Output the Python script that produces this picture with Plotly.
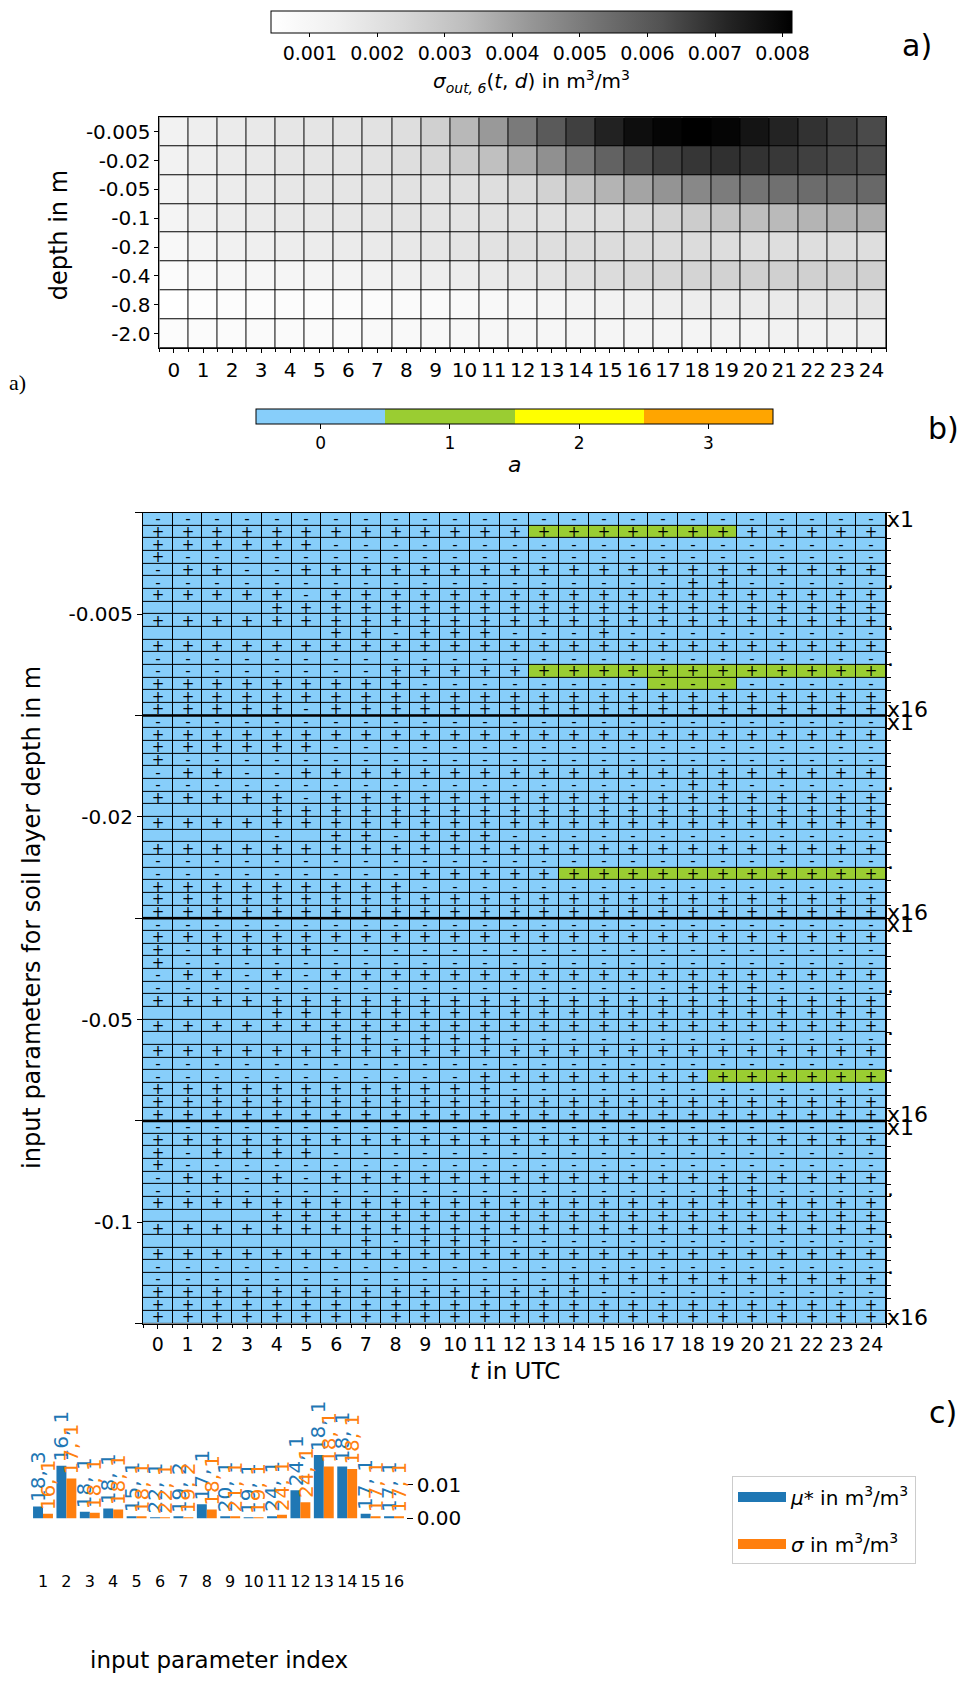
import plotly.graph_objects as go

W, H = 965, 1689


def fx(p):
    return p / W


def fy(p):
    return 1 - p / H


FONT = "DejaVu Sans"

# ---------------- panel a: sigma_out,6(t, d) ----------------
HOURS = list(range(25))
DEPTH_LABELS = ["-0.005", "-0.02", "-0.05", "-0.1", "-0.2", "-0.4", "-0.8", "-2.0"]
# values in 1e-3 m3/m3; rows follow DEPTH_LABELS, columns follow HOURS
SIGMA_OUT_MILLI = [
    [1.261, 1.473, 1.599, 1.683, 1.808, 1.850, 1.892, 1.976, 2.144, 2.664, 3.442, 4.208, 5.054,
     5.977, 6.597, 7.254, 7.775, 8.010, 8.140, 8.010, 7.618, 7.228, 6.897, 6.618, 6.383],
    [1.261, 1.473, 1.599, 1.683, 1.808, 1.850, 1.892, 1.976, 2.144, 2.388, 2.801, 3.215, 3.788,
     4.448, 5.054, 5.744, 6.297, 6.597, 6.811, 6.940, 6.897, 6.768, 6.597, 6.426, 6.297],
    [1.197, 1.431, 1.557, 1.641, 1.767, 1.808, 1.850, 1.892, 1.976, 1.976, 2.061, 2.144, 2.228,
     2.595, 3.077, 3.540, 3.936, 4.337, 4.668, 4.999, 5.219, 5.335, 5.451, 5.509, 5.568],
    [1.132, 1.389, 1.515, 1.599, 1.683, 1.725, 1.767, 1.808, 1.892, 1.892, 1.935, 1.976, 1.976,
     2.018, 2.061, 2.144, 2.312, 2.526, 2.801, 3.077, 3.283, 3.392, 3.540, 3.640, 3.689],
    [0.875, 1.132, 1.325, 1.431, 1.515, 1.557, 1.599, 1.641, 1.725, 1.808, 1.892, 1.976, 2.061,
     2.144, 2.186, 2.228, 2.228, 2.228, 2.228, 2.186, 2.144, 2.144, 2.144, 2.144, 2.144],
    [0.682, 0.811, 0.940, 1.004, 1.068, 1.132, 1.197, 1.261, 1.389, 1.473, 1.557, 1.641, 1.725,
     1.892, 2.061, 2.228, 2.388, 2.457, 2.526, 2.595, 2.664, 2.664, 2.664, 2.664, 2.664],
    [0.425, 0.554, 0.618, 0.618, 0.618, 0.618, 0.682, 0.682, 0.747, 0.747, 0.811, 0.875, 0.940,
     1.068, 1.197, 1.261, 1.389, 1.473, 1.515, 1.557, 1.599, 1.641, 1.725, 1.808, 1.892],
    [0.618, 0.682, 0.682, 0.747, 0.747, 0.747, 0.747, 0.811, 0.811, 0.875, 0.940, 0.940, 1.004,
     1.004, 1.068, 1.068, 1.132, 1.132, 1.132, 1.197, 1.197, 1.261, 1.261, 1.325, 1.389],
]
SIGMA_TICKS = [0.001, 0.002, 0.003, 0.004, 0.005, 0.006, 0.007, 0.008]

# ---------------- panel b: Morris class a and sign per input parameter ----------------
LAYER_LABELS = ["-0.005", "-0.02", "-0.05", "-0.1"]
N_PARAMS = 16
SIGNS_L1 = [
    "-------------------------",
    "+++++++++++++++++++++++++",
    "++++++-------------------",
    "+------------------------",
    "-++--++++++++++++++++++++",
    "------------------++-----",
    "+++++-+++++++++++++++++++",
    "    +++++++++++++++++++++",
    "+++++++++++++++++++++++++",
    "      ++-+++---+---------",
    "+++++++++++++++++++++++++",
    "-------------------------",
    "--------+++++++++++++++++",
    "+++++++++----------------",
    "+++++++++++++++++++++++++",
    "+++++-+++++++++++++++++++",
]
SIGNS_L2 = [
    "-------------------------",
    "+++++++++++++++++++++++++",
    "++++++-------------------",
    "+------------------------",
    "-++--++++++++++++++++++++",
    "------------------++-----",
    "+++++-+++++++++++++++++++",
    "    +++++++++++++++++++++",
    "+++++++++++++++++++++++++",
    "    - ++-+++-------------",
    "+++++++++++++++++++++++++",
    "-------------------------",
    "---------++++++++++++++++",
    "+++++++++----------------",
    "+++++++++++++++++++++++++",
    "+++++++++++++++++++++++++",
]
SIGNS_L3 = [
    "-------------------------",
    "+++++++++++++++++++++++++",
    "+-++++-------------------",
    "+------------------------",
    "-++-+-+++++++++++++++++++",
    "------------------+++----",
    "+++++++++++++++++++++++++",
    "    +++++++++++++++++++++",
    "+++++++++++++++++++++++++",
    "      ++-+++-------------",
    "+++++++++++++++++++++++++",
    "-------------------------",
    "-----------++++++++++++++",
    "++++++++++++-------------",
    "+++++++++++++++++++++++++",
    "+++++++++++++++++++++++++",
]
SIGNS_L4 = [
    "-------------------------",
    "+++++++++++++++++++++++++",
    "+-++++-------------------",
    "+------------------------",
    "-++-+-+++++++++++++++++++",
    "-------------------++----",
    "+++++++++++++++++++++++++",
    "    +++++++++++++++++++++",
    "+++++++++++++++++++++++++",
    "       +-+++-------------",
    "+++++++++++++++++++++++++",
    "-------------------------",
    "--------------+++++++++++",
    "+++++++++++++++----------",
    "+++++++++++++++++++++++++",
    "+++++++++++++++++++++++++",
]
# class a per parameter row (rows not listed are class 0 everywhere)
CLASS_L1 = {1: "0000000000000111111100000",
            12: "0000000000000111111111111",
            13: "0000000000000000011100000"}
CLASS_L2 = {12: "0000000000000011111111111"}
CLASS_L3 = {12: "0000000000000000000111111"}
CLASS_L4 = {}
CLASS_COLORS = ["#87cefa", "#9acd32", "#ffff00", "#ffa500"]
CLASS_VALUES = [0, 1, 2, 3]

# ---------------- panel c: mu* and sigma per input parameter ----------------
PARAM_IDX = list(range(1, 17))
MU_STAR = [0.0035, 0.0158, 0.0019, 0.0029, 0.0006, 0.0001, 0.0003, 0.0042,
           0.0005, 0.0001, 0.0006, 0.0084, 0.0190, 0.0155, 0.0013, 0.0005]
SIGMA = [0.0013, 0.0119, 0.0016, 0.0026, 0.0003, 0.0001, 0.0002, 0.0026,
         0.0004, 0.0001, 0.0010, 0.0048, 0.0155, 0.0148, 0.0006, 0.0006]
MU_LABELS = ["18, 3", "16, 1", "18, 1", "18, 1", "15, 1", "22, 1", "19, 2", "17, 1",
             "20, 1", "19, 1", "24, 1", "24, 1", "18, 1", "18, 1", "17, 1", "17, 1"]
SIGMA_LABELS = ["16, 1", "17, 1", "18, 1", "18, 1", "18, 1", "22, 1", "19, 2", "18, 1",
                "21, 1", "19, 1", "24, 1", "24, 1", "18, 1", "18, 1", "17, 1", "17, 1"]
BAR_TICKS = [0.0, 0.01]
MU_COLOR, SIGMA_COLOR = "#1f77b4", "#ff7f0e"
MU_NAME = "<i>μ</i>* in m<sup>3</sup>/m<sup>3</sup>"
SIGMA_NAME = "<i>σ</i> in m<sup>3</sup>/m<sup>3</sup>"
BARGAP = 0.15

# ---------------- assemble panel b grid ----------------
sign_blocks = [SIGNS_L1, SIGNS_L2, SIGNS_L3, SIGNS_L4]
class_blocks = [CLASS_L1, CLASS_L2, CLASS_L3, CLASS_L4]
class_z, sign_text = [], []
for signs, classes in zip(sign_blocks, class_blocks):
    for r in range(N_PARAMS):
        sign_text.append([ch.strip() for ch in signs[r]])
        row_cls = classes.get(r, "0" * len(HOURS))
        class_z.append([int(ch) for ch in row_cls])
n_rows = len(class_z)

GREYS = [[0.0, "#ffffff"], [0.125, "#f0f0f0"], [0.25, "#d9d9d9"], [0.375, "#bdbdbd"],
         [0.5, "#969696"], [0.625, "#737373"], [0.75, "#525252"], [0.875, "#252525"],
         [1.0, "#000000"]]
n_cls = len(CLASS_COLORS)
CLASS_SCALE = []
for i, c in enumerate(CLASS_COLORS):
    CLASS_SCALE += [[i / n_cls, c], [(i + 1) / n_cls, c]]

sigma_z = [[v * 1e-3 for v in row] for row in SIGMA_OUT_MILLI]
flat = [v for row in sigma_z for v in row]

fig = go.Figure()

fig.add_trace(go.Heatmap(
    z=sigma_z, x=HOURS, y=list(range(len(DEPTH_LABELS))),
    colorscale=GREYS, zmin=min(flat), zmax=max(flat),
    xgap=1, ygap=1, xaxis="x", yaxis="y", hoverinfo="skip",
    colorbar=dict(
        orientation="h", x=fx(531.5), xanchor="center", y=fy(5), yanchor="top",
        len=521 / W, thickness=22, xpad=0, ypad=0, outlinewidth=1, outlinecolor="black",
        ticks="outside", ticklen=4, tickcolor="black",
        tickvals=SIGMA_TICKS, ticktext=[f"{v:.3f}" for v in SIGMA_TICKS],
        tickfont=dict(family=FONT, size=19, color="black"),
    ),
))

fig.add_trace(go.Heatmap(
    z=class_z, x=HOURS, y=list(range(n_rows)),
    text=sign_text, texttemplate="%{text}",
    textfont=dict(family=FONT, size=15, color="black"),
    colorscale=CLASS_SCALE, zmin=-0.5, zmax=n_cls - 0.5,
    xgap=1, ygap=1, xaxis="x2", yaxis="y2", hoverinfo="skip",
    colorbar=dict(
        orientation="h", x=fx(514.5), xanchor="center", y=fy(406), yanchor="top",
        len=517 / W, thickness=15, xpad=0, ypad=0, outlinewidth=1, outlinecolor="black",
        ticks="outside", ticklen=5, tickcolor="black",
        tickvals=CLASS_VALUES, ticktext=[str(v) for v in CLASS_VALUES],
        tickfont=dict(family=FONT, size=17, color="black"),
    ),
))

# invisible anchor for the right-hand parameter axis
fig.add_trace(go.Scatter(x=[0], y=[0], xaxis="x2", yaxis="y3", mode="markers",
                         marker=dict(opacity=0), hoverinfo="skip", showlegend=False))

fig.add_trace(go.Bar(
    x=PARAM_IDX, y=MU_STAR, name=MU_NAME, showlegend=False,
    marker=dict(color=MU_COLOR, line=dict(width=0)),
    xaxis="x3", yaxis="y4", hoverinfo="skip",
))
fig.add_trace(go.Bar(
    x=PARAM_IDX, y=SIGMA, name=SIGMA_NAME, showlegend=False,
    marker=dict(color=SIGMA_COLOR, line=dict(width=0)),
    xaxis="x3", yaxis="y4", hoverinfo="skip",
))
# legend entries drawn as wide colour patches
for name, col, grp in ((MU_NAME, MU_COLOR, "mu"), (SIGMA_NAME, SIGMA_COLOR, "sigma")):
    fig.add_trace(go.Scatter(x=[None], y=[None], mode="lines", name=name, legendgroup=grp,
                             line=dict(color=col, width=14), xaxis="x3", yaxis="y4",
                             hoverinfo="skip"))

# black backing so heatmap gaps read as cell borders
for xr, yr in (("x", "y"), ("x2", "y2")):
    fig.add_shape(type="rect", xref=f"{xr} domain", yref=f"{yr} domain",
                  x0=0, x1=1, y0=0, y1=1, fillcolor="black", line=dict(width=0), layer="below")

# thicker separators between soil layers
for b in range(1, len(LAYER_LABELS)):
    yb = b * N_PARAMS - 0.5
    fig.add_shape(type="line", xref="x2 domain", yref="y2", x0=0, x1=1, y0=yb, y1=yb,
                  line=dict(color="black", width=2.5))

tick_font = dict(family=FONT, size=20, color="black")
axis_common = dict(showline=True, mirror=True, linecolor="black", linewidth=1,
                   showgrid=False, zeroline=False, ticks="outside", tickcolor="black")

right_vals, right_text = [], []
for b in range(len(LAYER_LABELS)):
    base = b * N_PARAMS
    right_vals += [base, base + 4.8, base + 8.1, base + 11, base + N_PARAMS - 1]
    right_text += ["x1", ".", ".", ".", f"x{N_PARAMS}"]

BAR_Y0_PX, BAR_PX_PER_UNIT = 1523, 3350
bar_range = [-(1575 - BAR_Y0_PX) / BAR_PX_PER_UNIT, 0.021]

fig.update_layout(
    width=W, height=H, margin=dict(l=0, r=0, t=0, b=0),
    paper_bgcolor="white", plot_bgcolor="white",
    font=dict(family=FONT, color="black"),
    barmode="group", bargap=BARGAP, bargroupgap=0.0,
    xaxis=dict(domain=[fx(159.4), fx(886)], anchor="y", range=[-0.5, 24.5],
               tickvals=HOURS, ticklen=4, tickfont=tick_font, tickangle=0,
               minor=dict(tick0=-0.5, dtick=1, ticks="outside", ticklen=3, tickcolor="black"),
               **axis_common),
    yaxis=dict(domain=[fy(344.6), fy(112)], anchor="x", range=[len(DEPTH_LABELS) - 0.5, -0.5],
               tickvals=list(range(len(DEPTH_LABELS))), ticktext=DEPTH_LABELS, ticklen=4,
               tickfont=tick_font, **axis_common),
    xaxis2=dict(domain=[fx(143), fx(886)], anchor="y2", range=[-0.5, 24.5], tickangle=0,
                tickvals=HOURS, ticklen=4, tickfont=dict(family=FONT, size=19, color="black"),
                minor=dict(tick0=-0.5, dtick=1, ticks="outside", ticklen=3, tickcolor="black"),
                **axis_common),
    yaxis2=dict(domain=[fy(1327), fy(510.5)], anchor="x2", range=[n_rows - 0.5, -0.5],
                tickvals=[b * N_PARAMS + (N_PARAMS - 1) / 2 for b in range(len(LAYER_LABELS))],
                ticktext=LAYER_LABELS, ticklen=5, tickfont=tick_font,
                minor=dict(tick0=-0.5, dtick=N_PARAMS, ticks="outside", ticklen=7, tickcolor="black"),
                **axis_common),
    yaxis3=dict(overlaying="y2", side="right", anchor="x2", range=[n_rows - 0.5, -0.5],
                tickvals=right_vals, ticktext=right_text, ticks="",
                tickfont=dict(family=FONT, size=22, color="black"),
                minor=dict(tick0=-0.5, dtick=1, ticks="outside", ticklen=4, tickcolor="black"),
                showgrid=False, zeroline=False, showline=False),
    xaxis3=dict(domain=[fx(31.3), fx(405.7)], anchor="y4", range=[0.5, 16.5],
                tickvals=PARAM_IDX, ticks="", showline=False, showgrid=False, zeroline=False,
                tickangle=0, tickfont=dict(family=FONT, size=16, color="black")),
    yaxis4=dict(domain=[fy(1575), fy(BAR_Y0_PX - 0.021 * BAR_PX_PER_UNIT)], anchor="x3",
                side="right", range=bar_range, tickvals=BAR_TICKS,
                ticktext=[f"{v:.2f}" for v in BAR_TICKS], ticks="outside", ticklen=6,
                tickcolor="black", showline=False, showgrid=False, zeroline=False,
                tickfont=tick_font),
    legend=dict(x=fx(732), y=fy(1481), xanchor="left", yanchor="top",
                bordercolor="#cccccc", borderwidth=1, bgcolor="white",
                font=dict(family=FONT, size=20, color="black"), tracegroupgap=18,
                itemwidth=48),
    showlegend=True,
)

annotations = [
    dict(text="<i>σ<sub>out, 6</sub></i>(<i>t</i>, <i>d</i>) in m<sup>3</sup>/m<sup>3</sup>",
         x=fx(531.5), y=fy(76), font=dict(size=20)),
    dict(text="<i>a</i>", x=fx(514.5), y=fy(462), font=dict(size=22)),
    dict(text="depth in m", x=fx(59), y=fy(231), textangle=-90, font=dict(size=24)),
    dict(text="a)", x=fx(917), y=fy(40), font=dict(size=30)),
    dict(text="a)", x=fx(17), y=fy(379), font=dict(family="Liberation Serif", size=22)),
    dict(text="b)", x=fx(943), y=fy(426), font=dict(size=30)),
    dict(text="input parameters for soil layer depth in m", x=fx(32), y=fy(918.5),
         textangle=-90, font=dict(size=24)),
    dict(text="<i>t</i> in UTC", x=fx(514.5), y=fy(1375), font=dict(size=23)),
    dict(text="c)", x=fx(943), y=fy(1417), font=dict(size=30)),
    dict(text="input parameter index", x=fx(219), y=fy(1666), font=dict(size=23)),
]
for a in annotations:
    a.setdefault("font", {})
    a["font"].setdefault("family", FONT)
    a["font"].setdefault("color", "black")
    fig.add_annotation(xref="paper", yref="paper", xanchor="center", yanchor="middle",
                       showarrow=False, **a)

# rotated labels above each bar, placed at the bar's own value
half = (1 - BARGAP) / 4
for idx, mu, sg, lm, ls in zip(PARAM_IDX, MU_STAR, SIGMA, MU_LABELS, SIGMA_LABELS):
    for xv, yv, lab, col in ((idx - half, mu, lm, MU_COLOR), (idx + half, sg, ls, SIGMA_COLOR)):
        fig.add_annotation(x=xv, y=yv, xref="x3", yref="y4", text=lab, textangle=-90,
                           xanchor="center", yanchor="bottom", yshift=2, showarrow=False,
                           font=dict(family=FONT, size=20, color=col))

fig.write_html("out.html")
